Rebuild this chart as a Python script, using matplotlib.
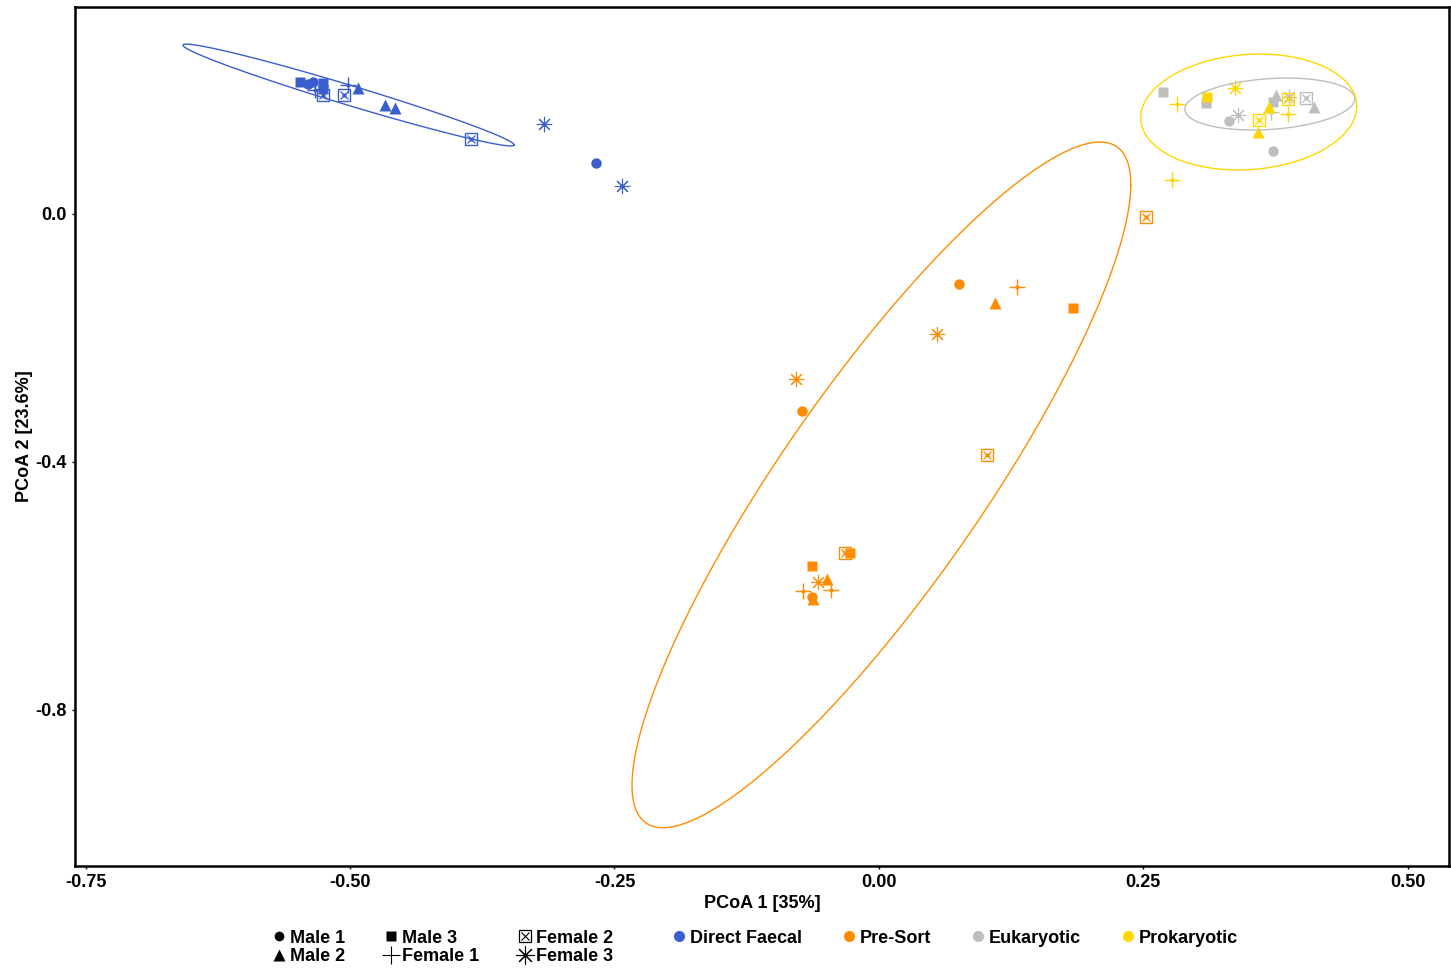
import numpy as np
import matplotlib
matplotlib.use("Agg")
import matplotlib.pyplot as plt
from matplotlib.lines import Line2D
from matplotlib.legend_handler import HandlerTuple

plt.rcParams['font.family'] = ['Liberation Sans', 'DejaVu Sans']
plt.rcParams['font.weight'] = 'bold'

# sample positions per group (PCoA 1, PCoA 2) and animal id
faecal_animal = ['M1', 'M1', 'M1', 'M3', 'M3', 'M3', 'M2', 'M2', 'M2',
                 'F1', 'F1', 'F2', 'F2', 'F2', 'F3', 'F3']
faecal_x = [-0.540, -0.535, -0.267, -0.547, -0.526, -0.526, -0.492, -0.467, -0.457,
            -0.533, -0.502, -0.526, -0.506, -0.386, -0.317, -0.243]
faecal_y = [0.210, 0.213, 0.082, 0.213, 0.211, 0.202, 0.203, 0.176, 0.171,
            0.200, 0.208, 0.192, 0.192, 0.121, 0.145, 0.045]

presort_animal = ['M1', 'M1', 'M1', 'M2', 'M2', 'M2', 'M3', 'M3', 'M3',
                  'F1', 'F1', 'F1', 'F2', 'F2', 'F2', 'F3', 'F3', 'F3']
presort_x = [0.076, -0.073, -0.063, 0.110, -0.049, -0.062, 0.184, -0.063, -0.027,
             0.131, -0.072, -0.045, 0.102, 0.253, -0.032, 0.055, -0.078, -0.058]
presort_y = [-0.113, -0.318, -0.618, -0.144, -0.589, -0.621, -0.152, -0.568, -0.547,
             -0.118, -0.608, -0.606, -0.389, -0.005, -0.547, -0.194, -0.266, -0.594]

euk_animal = ['M1', 'M1', 'M2', 'M2', 'M3', 'M3', 'M3', 'F1', 'F2', 'F3', 'F3']
euk_x = [0.331, 0.373, 0.375, 0.411, 0.269, 0.309, 0.373, 0.371, 0.404, 0.340, 0.388]
euk_y = [0.150, 0.102, 0.192, 0.173, 0.197, 0.179, 0.181, 0.165, 0.187, 0.160, 0.189]

prok_animal = ['M3', 'F1', 'F1', 'F1', 'F3', 'M2', 'M2', 'F2', 'F2']
prok_x = [0.310, 0.282, 0.387, 0.277, 0.337, 0.369, 0.358, 0.359, 0.387]
prok_y = [0.189, 0.177, 0.161, 0.055, 0.203, 0.173, 0.132, 0.152, 0.185]

groups = ['Direct Faecal', 'Pre-Sort', 'Eukaryotic', 'Prokaryotic']
group_colors = ['#3A5FCD', '#FF8C00', '#BEBEBE', '#FFD700']
animals = ['M1', 'M2', 'M3', 'F1', 'F2', 'F3']
animal_labels = ['Male 1', 'Male 2', 'Male 3', 'Female 1', 'Female 2', 'Female 3']

# confidence ellipses: centre, x / y half extent and correlation
ell_cx = [-0.5014, 0.0024, 0.3696, 0.3497]
ell_cy = [0.1919, -0.4371, 0.1774, 0.1645]
ell_sx = [0.1565, 0.2358, 0.0803, 0.1021]
ell_sy = [0.0821, 0.5532, 0.0419, 0.0935]
ell_rho = [-0.979, 0.876, 0.2, 0.1]

group_data = [(faecal_x, faecal_y, faecal_animal),
              (presort_x, presort_y, presort_animal),
              (euk_x, euk_y, euk_animal),
              (prok_x, prok_y, prok_animal)]


def draw_marker(ax, x, y, animal, color):
    if animal == 'M1':
        ax.plot(x, y, 'o', color=color, ms=7.5, mec='none')
    elif animal == 'M2':
        ax.plot(x, y, '^', color=color, ms=9, mec='none')
    elif animal == 'M3':
        ax.plot(x, y, 's', color=color, ms=7.5, mec='none')
    elif animal == 'F1':
        ax.plot(x, y, '+', color=color, ms=12, mew=1.0)
        ax.plot(x, y, 'o', color=color, ms=3, mec='none')
    elif animal == 'F2':
        ax.plot(x, y, 's', mfc='none', mec=color, ms=8, mew=1.0)
        ax.plot(x, y, 'x', color=color, ms=6, mew=0.9)
        ax.plot(x, y, 's', color=color, ms=3, mec='none')
    elif animal == 'F3':
        ax.plot(x, y, marker=(8, 2, 0), ls='none', color=color, ms=11, mew=0.8)
        ax.plot(x, y, 'o', color=color, ms=3, mec='none')


fig = plt.figure(figsize=(14.51, 9.68), dpi=100)
ax = fig.add_axes([0.0517, 0.1054, 0.9469, 0.8874])

t = np.linspace(0, 2 * np.pi, 400)
for i, (xs, ys, an) in enumerate(group_data):
    for a in animals:
        px = [x for x, k in zip(xs, an) if k == a]
        py = [y for y, k in zip(ys, an) if k == a]
        if px:
            draw_marker(ax, px, py, a, group_colors[i])

for i in range(len(groups)):
    ex = ell_cx[i] + ell_sx[i] * np.cos(t)
    ey = ell_cy[i] + ell_sy[i] * (ell_rho[i] * np.cos(t) + np.sqrt(1 - ell_rho[i] ** 2) * np.sin(t))
    ax.plot(ex, ey, color=group_colors[i], lw=1.0)

ax.set_xlim(-0.760, 0.539)
ax.set_ylim(-1.052, 0.334)
ax.set_xticks([-0.75, -0.5, -0.25, 0, 0.25, 0.5])
ax.set_xticklabels(['-0.75', '-0.50', '-0.25', '0.00', '0.25', '0.50'])
ax.set_yticks([0.0, -0.4, -0.8])
ax.set_yticklabels(['0.0', '-0.4', '-0.8'])
ax.tick_params(labelsize=13, length=2, width=1.0, colors='black', pad=4)
for s in ax.spines.values():
    s.set_linewidth(1.8)
    s.set_color('black')
ax.set_xlabel('PCoA 1 [35%]', fontsize=13, fontweight='bold', labelpad=3)
ax.set_ylabel('PCoA 2 [23.6%]', fontsize=13, fontweight='bold', labelpad=2)

# shape legend
k = 'black'
shape_handles = [
    Line2D([], [], marker='o', ls='none', color=k, ms=7, mec='none'),
    Line2D([], [], marker='^', ls='none', color=k, ms=9, mec='none'),
    Line2D([], [], marker='s', ls='none', color=k, ms=6.5, mec='none'),
    Line2D([], [], marker='+', ls='none', color=k, ms=13, mew=0.8),
    (Line2D([], [], marker='s', ls='none', mfc='none', mec=k, ms=8, mew=0.9),
     Line2D([], [], marker='x', ls='none', color=k, ms=6, mew=0.8)),
    Line2D([], [], marker=(8, 2, 0), ls='none', color=k, ms=13, mew=0.8),
]
fig.legend(shape_handles, animal_labels, ncol=3, loc='upper left',
           bbox_to_anchor=(0.181, 0.049), frameon=False, fontsize=13,
           handlelength=0.8, handletextpad=0.2, columnspacing=2.15,
           labelspacing=0.08, borderpad=0.0,
           handler_map={tuple: HandlerTuple(ndivide=1)})

color_handles = [Line2D([], [], marker='o', ls='none', color=c, ms=8, mec='none')
                 for c in group_colors]
fig.legend(color_handles, groups, ncol=4, loc='upper left',
           bbox_to_anchor=(0.458, 0.049), frameon=False, fontsize=13,
           handlelength=0.6, handletextpad=0.3, columnspacing=2.3,
           borderpad=0.0)

fig.savefig('out.png', dpi=100)
